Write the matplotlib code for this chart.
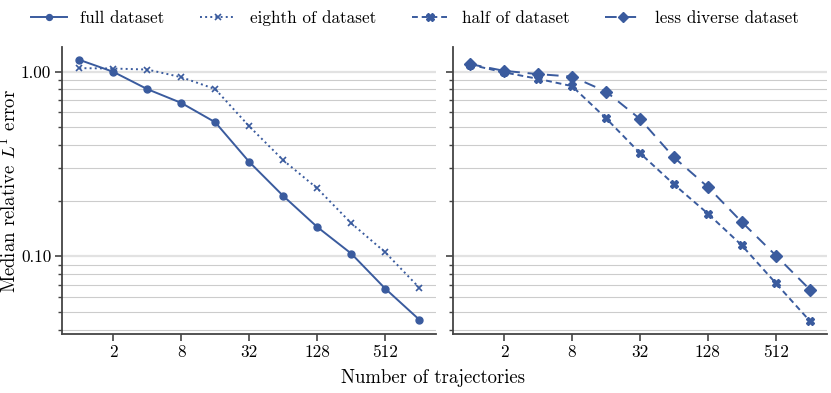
import numpy as np
import matplotlib
matplotlib.use("Agg")
import matplotlib.pyplot as plt
from matplotlib.ticker import FixedLocator, FixedFormatter, LogLocator, NullFormatter, NullLocator, FuncFormatter

plt.rcParams['font.family'] = 'serif'
plt.rcParams['font.serif'] = ['cmr10']
plt.rcParams['mathtext.fontset'] = 'cm'
plt.rcParams['axes.unicode_minus'] = False
plt.rcParams['axes.formatter.use_mathtext'] = True

# data
n_traj = [1, 2, 4, 8, 16, 32, 64, 128, 256, 512, 1024]
full = [1.157, 0.996, 0.803, 0.676, 0.531, 0.324, 0.212, 0.144, 0.1034, 0.0668, 0.0454]
eighth = [1.043, 1.038, 1.025, 0.932, 0.803, 0.505, 0.331, 0.233, 0.151, 0.105, 0.0676]
half = [1.09, 0.99, 0.913, 0.834, 0.559, 0.362, 0.245, 0.170, 0.1144, 0.0714, 0.0446]
less_diverse = [1.097, 1.009, 0.968, 0.939, 0.779, 0.554, 0.343, 0.237, 0.153, 0.1009, 0.0660]

xticks = [2, 8, 32, 128, 512]
col = '#3a5b9e'

fig, (ax1, ax2) = plt.subplots(1, 2, figsize=(8.31, 3.93), dpi=100, sharey=True)
fig.subplots_adjust(left=0.075, right=0.995, top=0.881, bottom=0.150, wspace=0.045)

ax1.plot(n_traj, full, '-', marker='o', color=col, ms=5, lw=1.4, label='full dataset')
ax1.plot(n_traj, eighth, ':', marker='x', color=col, ms=5, lw=1.4, mew=1.2, label='eighth of dataset')
ax2.plot(n_traj, half, '--', marker='X', color=col, ms=6, lw=1.4, dashes=(3, 2), label='half of dataset')
ax2.plot(n_traj, less_diverse, '--', marker='D', color=col, ms=6, lw=1.4, dashes=(6, 4), label='less diverse dataset')

for ax in (ax1, ax2):
    ax.set_xscale('log', base=2)
    ax.set_yscale('log')
    ax.xaxis.set_major_locator(FixedLocator(xticks))
    ax.xaxis.set_major_formatter(FixedFormatter([str(t) for t in xticks]))
    ax.xaxis.set_minor_locator(NullLocator())
    ax.yaxis.set_major_locator(LogLocator(base=10))
    ax.yaxis.set_minor_locator(LogLocator(base=10, subs=np.arange(2, 10)))
    ax.yaxis.set_minor_formatter(NullFormatter())
    ax.yaxis.set_major_formatter(FuncFormatter(lambda v, p: f'{v:.2f}'))
    ax.grid(True, which='major', axis='y', color='#e2e2e2', lw=1.6)
    ax.grid(True, which='minor', axis='y', color='#cccccc', lw=0.8)
    ax.set_axisbelow(True)
    for s in ('top', 'right'):
        ax.spines[s].set_visible(False)
    for s in ('left', 'bottom'):
        ax.spines[s].set_color('#444444')
        ax.spines[s].set_linewidth(1.3)
    ax.tick_params(which='major', length=5, width=1.2, color='#444444', labelsize=12.3, pad=3)
    ax.tick_params(which='minor', length=3, width=1.0, color='#444444')

ax2.tick_params(axis='y', labelleft=False)
ax1.set_ylabel('Median relative $L^1$ error', fontsize=13.5)
ax1.yaxis.set_label_coords(-0.112, 0.5)
fig.text(0.521, 0.038, 'Number of trajectories', ha='center', va='center', fontsize=13.5)

h1, l1 = ax1.get_legend_handles_labels()
h2, l2 = ax2.get_legend_handles_labels()
fig.legend(h1 + h2, l1 + l2, loc='center', bbox_to_anchor=(0.499, 0.953), ncol=4,
           frameon=False, fontsize=12.3, columnspacing=2.1, handlelength=2.1,
           handletextpad=0.8, markerscale=0.85, borderaxespad=0)

plt.savefig('out.png', dpi=100)
